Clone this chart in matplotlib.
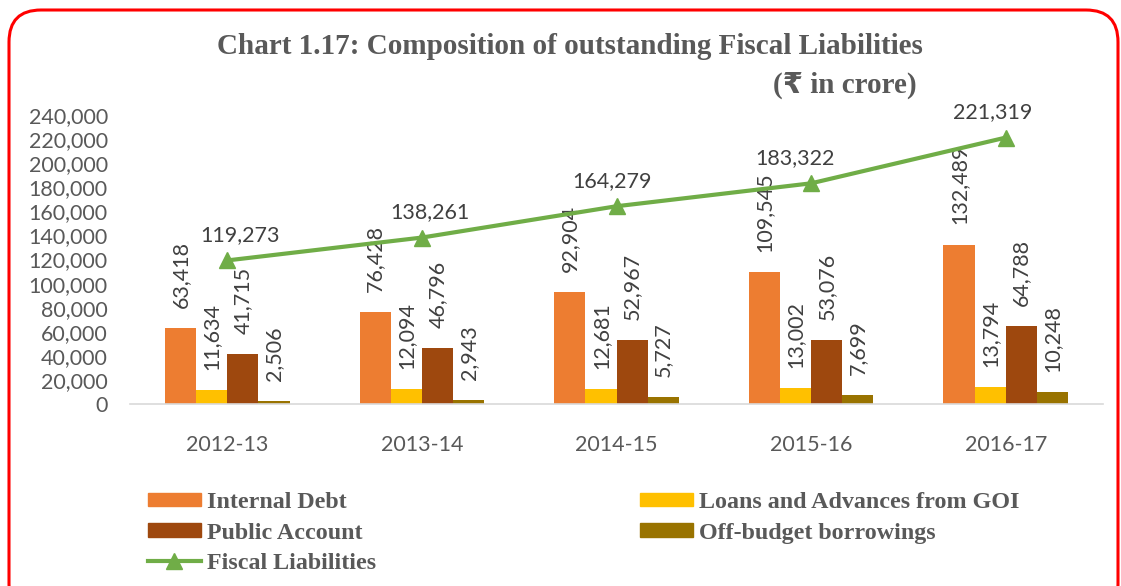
import numpy as np
import matplotlib.pyplot as plt
from matplotlib.patches import FancyBboxPatch
from matplotlib.lines import Line2D
from matplotlib.patches import Patch

years = ['2012-13', '2013-14', '2014-15', '2015-16', '2016-17']
internal_debt = [63418, 76428, 92904, 109545, 132489]
loans_goi = [11634, 12094, 12681, 13002, 13794]
public_account = [41715, 46796, 52967, 53076, 64788]
off_budget = [2506, 2943, 5727, 7699, 10248]
fiscal_liab = [119273, 138261, 164279, 183322, 221319]

bar_series = [internal_debt, loans_goi, public_account, off_budget]
bar_names = ['Internal Debt', 'Loans and Advances from GOI', 'Public Account', 'Off-budget borrowings']
bar_colors = ['#ED7D31', '#FFC000', '#9E480E', '#997300']
line_color = '#70AD47'
grey = '#595959'
label_grey = '#404040'

num_font = 'Lato'
serif = ['Liberation Serif', 'DejaVu Sans']

# horizontal nudges (points) of the line labels, as placed in the original
line_label_dx = [9.5, 6, -3.5, -12, -9.5]

fig = plt.figure(figsize=(11.21, 5.86), dpi=100)
ax = fig.add_axes([0.116, 0.3106, 0.868, 0.493])

x = np.arange(len(years))
w = 0.16
for i, (vals, col) in enumerate(zip(bar_series, bar_colors)):
    pos = x + (i - 1.5) * w
    bars = ax.bar(pos, vals, width=w, color=col, zorder=2)
    for b, v in zip(bars, vals):
        ax.annotate(f'{v:,}', (b.get_x() + b.get_width() / 2, v),
                    xytext=(0, 14.5), textcoords='offset points',
                    rotation=90, ha='center', va='bottom',
                    fontsize=15.5, color=label_grey, family=num_font)

ax.plot(x, fiscal_liab, color=line_color, lw=3, marker='^', markersize=11, zorder=3)
for xi, v, dx in zip(x, fiscal_liab, line_label_dx):
    ax.annotate(f'{v:,}', (xi, v), xytext=(dx, 11), textcoords='offset points',
                ha='center', va='bottom', fontsize=15.5, color=label_grey, family=num_font)

ax.set_xlim(-0.5, len(years) - 0.5)
ax.set_ylim(0, 240000)
ax.set_yticks(np.arange(0, 240001, 20000))
ax.yaxis.set_major_formatter(plt.FuncFormatter(lambda v, p: f'{int(v):,}'))
ax.set_xticks(x)
ax.set_xticklabels(years)
for s in ['top', 'right', 'left']:
    ax.spines[s].set_visible(False)
ax.spines['bottom'].set_color('#D9D9D9')
ax.spines['bottom'].set_linewidth(1.2)
ax.tick_params(axis='both', length=0, labelsize=15.5, labelcolor=grey)
ax.tick_params(axis='x', pad=22)
ax.tick_params(axis='y', pad=16)
for t in ax.get_xticklabels() + ax.get_yticklabels():
    t.set_family(num_font)

fig.text(0.508, 0.92, 'Chart 1.17: Composition of outstanding Fiscal Liabilities',
         ha='center', va='center', fontsize=21, fontweight='bold', color=grey, family=serif)
fig.text(0.818, 0.855, '(₹ in crore)', ha='right', va='center',
         fontsize=21, fontweight='bold', color=grey, family=serif)

handles = [Patch(color=c) for c in bar_colors]
handles.append(Line2D([0], [0], color=line_color, lw=3, marker='^', markersize=11))
# col 1 = Internal Debt, Public Account, Fiscal Liabilities; col 2 = Loans, Off-budget
order_h = [handles[0], handles[2], handles[4], handles[1], handles[3]]
order_l = [bar_names[0], bar_names[2], 'Fiscal Liabilities', bar_names[1], bar_names[3]]
leg = fig.legend(order_h, order_l, ncol=2, loc='upper left', bbox_to_anchor=(0.121, 0.181),
                 frameon=False, borderpad=0, handlelength=2.2, handleheight=0.5,
                 handletextpad=0.25, columnspacing=11.0, labelspacing=0.4,
                 prop={'family': serif, 'weight': 'bold', 'size': 17.3})
for t in leg.get_texts():
    t.set_color(grey)

border = FancyBboxPatch((9, -30), 1109, 606, boxstyle='round,pad=0,rounding_size=32',
                        transform=None, fill=False, edgecolor='#FF0000', lw=2.2)
fig.patches.append(border)

fig.savefig('out.png', dpi=100)
